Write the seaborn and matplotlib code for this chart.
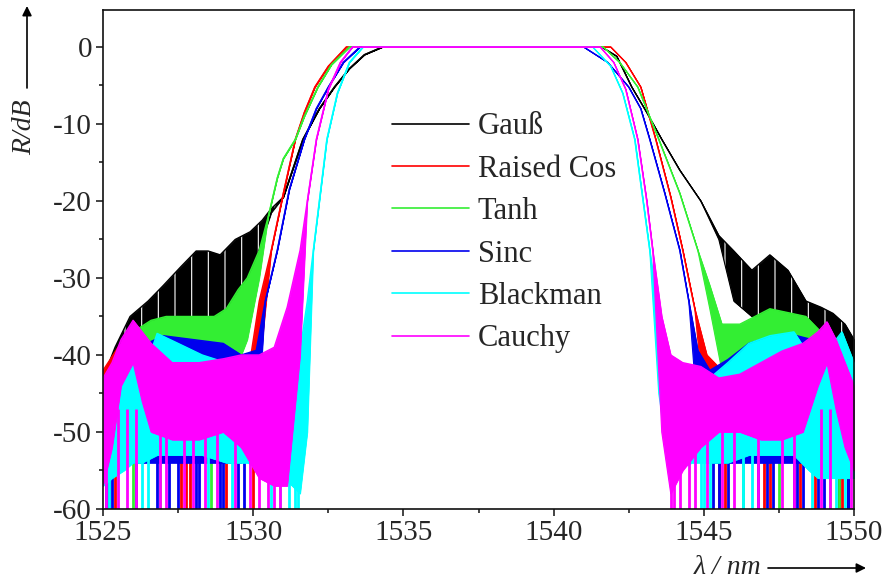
import numpy as np
import pandas as pd
import matplotlib
matplotlib.use("Agg")
import matplotlib.pyplot as plt
from matplotlib.ticker import MultipleLocator
import seaborn as sns

# --------------------------------------------------------------
# Data (wavelength in nm, reflection in dB)
# hi / lo = upper and lower edge of the ripple band, equal where the
# spectrum is a single clean line; *_spikes = deep ripple dips to -60 dB
# --------------------------------------------------------------
gauss_x = [1525.0, 1525.4, 1525.9, 1526.5, 1527.0, 1527.6, 1528.1, 1528.5, 1528.9,
           1529.4, 1529.9, 1530.3, 1530.6, 1531.0, 1531.65, 1532.2, 1532.7, 1533.2,
           1533.7, 1534.3, 1541.6, 1542.1, 1542.6, 1543.1, 1543.6, 1544.2, 1544.9,
           1545.5, 1546.0, 1546.6, 1547.2, 1547.8, 1548.4, 1548.9, 1549.3, 1549.7, 1550.0]
gauss_hi = [-43, -39, -35, -33, -31, -28.5, -26.5, -26.5, -27,
            -25, -24, -22.5, -21, -19.5, -12, -8, -5.2, -2.8,
            -1, 0, 0, -1.2, -5.2, -8.5, -12, -16, -20,
            -24.5, -26.5, -29, -27, -29, -33, -33.8, -34.6, -36, -38]
gauss_lo = [-47, -42, -39, -37.5, -37, -35.5, -35.5, -36.5, -37,
            -36.5, -30, -25, -21.5, -19.5, -12, -8, -5.2, -2.8,
            -1, 0, 0, -1.2, -5.2, -8.5, -12, -16, -20,
            -25, -33, -35, -35, -36.8, -37, -39, -40.6, -43, -45]
gauss_spikes = [1549.5, 1549.8]

rcos_x = [1525.0, 1525.5, 1526.0, 1527.0, 1528.0, 1529.0, 1529.9, 1530.2, 1530.6,
          1531.0, 1531.4, 1531.7, 1532.05, 1532.5, 1533.1, 1541.9, 1542.4, 1542.9,
          1543.4, 1543.9, 1544.3, 1544.7, 1545.1, 1545.6, 1546.5, 1547.5, 1548.5,
          1549.2, 1549.7, 1550.0]
rcos_hi = [-42, -39, -38, -38, -39, -39.5, -40.6, -33, -26.4,
           -19, -12, -8.5, -5.2, -2.5, 0, 0, -2, -5.2,
           -12, -19.5, -26.4, -34, -40, -42, -40, -38, -38,
           -39, -41, -43]
rcos_lo = [-52, -52, -52, -52, -52, -52, -52, -42, -26.4,
           -19, -12, -8.5, -5.2, -2.5, 0, 0, -2, -5.2,
           -12, -19.5, -26.4, -34, -50, -52, -52, -52, -52,
           -52, -52, -52]
rcos_spikes = [1525.4, 1527.6, 1527.75, 1527.9, 1529.1, 1530.0,
               1545.5, 1545.7, 1547.0, 1547.2, 1548.2, 1548.7, 1549.6]

tanh_x = [1525.0, 1525.5, 1526.0, 1526.6, 1527.1, 1527.7, 1528.2, 1528.7, 1529.1,
          1529.5, 1529.8, 1530.2, 1530.5, 1530.8, 1531.0, 1531.4, 1531.7, 1532.15,
          1532.6, 1533.2, 1541.65, 1542.2, 1542.8, 1543.5, 1544.2, 1544.8, 1545.2,
          1545.6, 1546.2, 1546.7, 1547.2, 1547.8, 1548.4, 1548.9, 1549.4, 1550.0]
tanh_hi = [-44, -40, -37, -35.5, -35, -35, -35, -35, -34,
           -31.5, -30, -26.4, -22, -17, -14.5, -12, -9, -5.2,
           -2.3, 0, 0, -2, -5.2, -12, -19, -26.4, -31,
           -36, -36, -35, -34, -34.5, -35, -37, -40, -43]
tanh_lo = [-52, -52, -52, -52, -52, -52, -50, -48, -45,
           -41, -38, -30, -22, -17, -14.5, -12, -9, -5.2,
           -2.3, 0, 0, -2, -5.2, -12, -19, -26.4, -34,
           -42, -44, -48, -52, -52, -52, -52, -52, -52]
tanh_spikes = [1525.2, 1526.0, 1526.9, 1528.6, 1546.3, 1547.5, 1549.2, 1549.5]

sinc_x = [1525.0, 1525.3, 1525.7, 1526.2, 1527.0, 1528.0, 1529.0, 1529.6, 1530.1,
          1530.4, 1530.8, 1531.2, 1531.7, 1532.1, 1532.5, 1533.0, 1533.55, 1541.0,
          1541.8, 1542.5, 1542.9, 1543.2, 1543.7, 1544.2, 1544.5, 1544.8, 1545.2,
          1545.8, 1546.5, 1547.2, 1548.0, 1548.6, 1549.2, 1549.6, 1550.0]
sinc_hi = [-45.5, -42, -40, -39, -37.5, -38, -38.5, -40, -39.4,
           -33, -26.4, -18.5, -12, -8, -5.2, -2, 0, 0,
           -2, -5.2, -8, -12, -19, -26.4, -33, -39.4, -42,
           -40.6, -38.5, -37.7, -37.4, -38, -40, -42, -45]
sinc_lo = [-56, -55, -54, -54, -54, -54, -54, -54, -52,
           -33, -26.4, -18.5, -12, -8, -5.2, -2, 0, 0,
           -2, -5.2, -8, -12, -19, -26.4, -33, -48, -54,
           -54, -54, -54, -54, -54, -55, -55, -56]
sinc_spikes = [1525.1, 1525.2, 1525.3, 1526.1, 1526.8, 1527.2, 1527.5, 1528.1,
               1528.2, 1528.9, 1529.0, 1529.5, 1529.7,
               1545.3, 1545.5, 1545.8, 1546.8, 1547.1, 1547.3, 1548.0, 1548.1,
               1548.3, 1548.8, 1549.0, 1549.8]

blackman_x = [1525.0, 1525.3, 1525.7, 1526.0, 1526.3, 1526.8, 1527.5, 1528.3, 1529.1,
              1529.8, 1530.5, 1531.0, 1531.3, 1531.56, 1531.8, 1532.0, 1532.45, 1532.8,
              1533.2, 1533.65, 1541.3, 1541.9, 1542.3, 1542.7, 1543.2, 1543.5, 1543.8,
              1544.1, 1544.6, 1545.2, 1545.8, 1546.5, 1547.2, 1548.0, 1548.5, 1548.8,
              1549.2, 1549.6, 1550.0]
blackman_hi = [-47, -44, -41, -39, -43, -37.2, -38.5, -40, -41,
               -42, -42, -41, -40, -39.4, -33, -26.4, -12, -6,
               -2, 0, 0, -2.5, -6, -12, -26.4, -35, -40,
               -46, -46, -43, -41, -38.5, -37.5, -37, -40, -42,
               -39, -37, -41]
blackman_lo = [-57, -56, -55, -54, -54, -53, -53, -53, -54,
               -54, -55, -56, -57, -58, -50, -26.4, -12, -6,
               -2, 0, 0, -2.5, -6, -12, -26.4, -45, -53,
               -55, -54, -54, -54, -53, -53, -53, -55, -56,
               -56, -56, -56]
blackman_spikes = [1525.2, 1526.3, 1526.5, 1528.5, 1529.3, 1530.6, 1530.9,
                   1531.2, 1531.4, 1531.5,
                   1544.9, 1545.0, 1545.2, 1546.3, 1546.6, 1548.6, 1549.4, 1549.7]

cauchy_x = [1525.0, 1525.3, 1525.6, 1526.0, 1526.3, 1526.6, 1527.3, 1528.2, 1529.0,
            1529.6, 1530.2, 1530.7, 1531.13, 1531.56, 1531.8, 1532.1, 1532.5, 1532.9,
            1533.3, 1541.55, 1542.0, 1542.4, 1542.8, 1543.1, 1543.3, 1543.6, 1543.9,
            1544.3, 1544.9, 1545.5, 1546.2, 1546.9, 1547.6, 1548.3, 1548.8, 1549.1,
            1549.4, 1549.7, 1550.0]
cauchy_hi = [-43, -41, -38, -35.5, -37, -38.5, -41, -41, -40.5,
             -40, -40, -39, -33.8, -26.4, -20, -12, -5.5, -2,
             0, 0, -2, -5.5, -12, -20, -26.4, -35, -40,
             -41, -41.5, -43, -42.5, -41, -39.5, -38.5, -37, -35.7,
             -38, -41, -44]
cauchy_lo = [-57, -52, -44, -41, -46, -50, -51, -51, -50,
             -52, -56, -57, -57, -40, -20, -12, -5.5, -2,
             0, 0, -2, -5.5, -12, -20, -26.4, -50, -58,
             -55, -52, -50, -50, -51, -51, -50, -44, -41,
             -47, -52, -55]
cauchy_spikes = [1525.1, 1525.5, 1525.8, 1526.1, 1526.9, 1527.1, 1527.7, 1528.0,
                 1528.4, 1528.8, 1529.4, 1529.9,
                 1530.2, 1530.5, 1530.7, 1530.9,
                 1543.9, 1544.0, 1544.2, 1544.5, 1544.7, 1545.1, 1545.6, 1546.0,
                 1546.8, 1547.6, 1548.0, 1548.9, 1549.2, 1549.9]

names = ["Gauß", "Raised Cos", "Tanh", "Sinc", "Blackman", "Cauchy"]
colors = ["#000000", "#ff0000", "#33ee33", "#0000ee", "#00ffff", "#ff00ff"]

series = [
    (gauss_x, gauss_hi, gauss_lo, gauss_spikes),
    (rcos_x, rcos_hi, rcos_lo, rcos_spikes),
    (tanh_x, tanh_hi, tanh_lo, tanh_spikes),
    (sinc_x, sinc_hi, sinc_lo, sinc_spikes),
    (blackman_x, blackman_hi, blackman_lo, blackman_spikes),
    (cauchy_x, cauchy_hi, cauchy_lo, cauchy_spikes),
]

# %%
# --------------------------------------------------------------
# Plot
# --------------------------------------------------------------
sns.set_style("ticks")
plt.rcParams["font.family"] = ["Liberation Serif", "DejaVu Serif"]
plt.rcParams["axes.unicode_minus"] = False
plt.rcParams["hatch.linewidth"] = 0.8

fig = plt.figure(figsize=(8.89, 5.87), dpi=100)
ax = fig.add_axes([0.1159, 0.1329, 0.8447, 0.8501])

for i, (name, c, (x, hi, lo, spikes)) in enumerate(zip(names, colors, series)):
    z = 2 + i
    df = pd.DataFrame({"lam": x, "hi": hi, "lo": lo})
    ax.vlines(spikes, -60, -47, color=c, lw=2.0, zorder=z - 0.5)
    ax.fill_between(df["lam"], df["lo"], df["hi"], color=c, lw=0.6, zorder=z)
    if i == 0:
        # white gaps between the ripple teeth of the Gauss curve
        ax.fill_between(df["lam"], df["lo"], df["hi"], facecolor="none",
                        edgecolor="white", hatch="|", lw=0, zorder=z + 0.1)
    sns.lineplot(data=df, x="lam", y="hi", color=c, lw=1.0, label=name,
                 estimator=None, sort=False, ax=ax, zorder=z + 0.2)
    sns.lineplot(data=df, x="lam", y="lo", color=c, lw=0.8, zorder=z + 0.2,
                 estimator=None, sort=False, ax=ax, legend=False)

ax.set_xlim(1525, 1550)
ax.set_ylim(-60, 4.8)
ax.xaxis.set_major_locator(MultipleLocator(5))
ax.xaxis.set_minor_locator(MultipleLocator(2.5))
ax.yaxis.set_major_locator(MultipleLocator(10))
ax.yaxis.set_minor_locator(MultipleLocator(5))
ax.tick_params(which="major", direction="out", length=5, width=1.1,
               labelsize=21, pad=3, color="#111111")
ax.tick_params(which="minor", direction="out", length=3, width=1.1,
               color="#111111")
for s in ax.spines.values():
    s.set_linewidth(1.2)
    s.set_color("#111111")
    s.set_zorder(20)
ax.set_xlabel("")
ax.set_ylabel("")

leg = ax.legend(loc="upper left", bbox_to_anchor=(0.385, 0.795), frameon=False,
                fontsize=22, handlelength=2.5, handletextpad=0.3,
                labelspacing=0.44, borderpad=0, borderaxespad=0)
leg.set_zorder(30)
for h in leg.get_lines():
    h.set_linewidth(1.2)

# axis labels with arrows
fig.text(25 / 889, 1 - 127 / 587, "R/dB", rotation=90, ha="center", va="center",
         fontsize=20, style="italic")
fig.text(727 / 889, 1 - 567 / 587, "λ / nm", ha="center", va="center",
         fontsize=20, style="italic")
ax.annotate("", xy=(27 / 889, 1 - 6 / 587), xytext=(27 / 889, 1 - 88 / 587),
            xycoords="figure fraction", textcoords="figure fraction",
            arrowprops=dict(arrowstyle="-|>", color="black", lw=1.2,
                            mutation_scale=14, shrinkA=0, shrinkB=0))
ax.annotate("", xy=(866 / 889, 1 - 568 / 587), xytext=(768 / 889, 1 - 568 / 587),
            xycoords="figure fraction", textcoords="figure fraction",
            arrowprops=dict(arrowstyle="-|>", color="black", lw=1.2,
                            mutation_scale=14, shrinkA=0, shrinkB=0))

fig.savefig("out.png", dpi=100)
